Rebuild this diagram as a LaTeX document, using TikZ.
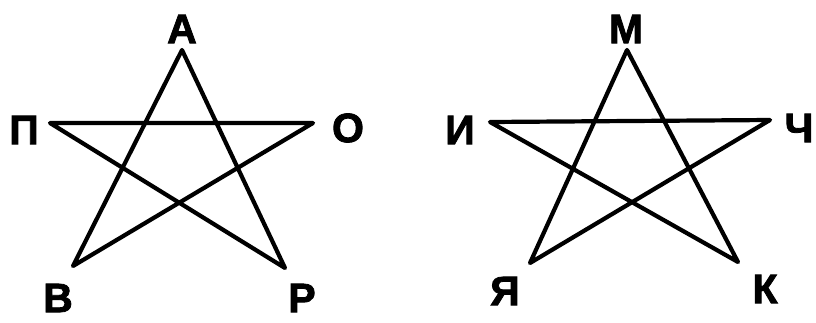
\documentclass[tikz,border=0pt]{standalone}
\usepackage{fontspec}
\setmainfont{Liberation Sans}
\newfontfamily\heavy[BoldFont={Liberation Sans Bold},BoldFeatures={FakeBold=2}]{Liberation Sans}
\begin{document}
\begin{tikzpicture}[x=1pt,y=-1pt,
  edge/.style={line width=4.2pt,line join=round,line cap=round},
  lbl/.style={font=\heavy\bfseries\fontsize{41}{41}\selectfont,inner sep=0pt,anchor=center}]
\useasboundingbox (0,0) rectangle (816,322);
% left star
\coordinate (A) at (182,50);
\coordinate (P1) at (50,123);
\coordinate (O) at (313,123);
\coordinate (B) at (73,266);
\coordinate (R) at (285,268);
\draw[edge] (A) -- (B) -- (O) -- (P1) -- (R) -- cycle;
\node[lbl] (lA) at (182,29) {А};
\node[lbl] (lP) at (24,130) {П};
\node[lbl] (lO) at (348,128) {О};
\node[lbl] (lB) at (58,298) {В};
\node[lbl] (lR) at (302,298) {Р};
% right star
\coordinate (M) at (627,50);
\coordinate (I) at (490,122);
\coordinate (Ch) at (770,120);
\coordinate (Ya) at (530,263);
\coordinate (K) at (738,262);
\draw[edge] (M) -- (Ya) -- (Ch) -- (I) -- (K) -- cycle;
\node[lbl] (lM) at (626,29) {М};
\node[lbl] (lI) at (460,130) {И};
\node[lbl] (lCh) at (799,128) {Ч};
\node[lbl] (lYa) at (505,291) {Я};
\node[lbl] (lK) at (765,289) {К};
\end{tikzpicture}
\end{document}
